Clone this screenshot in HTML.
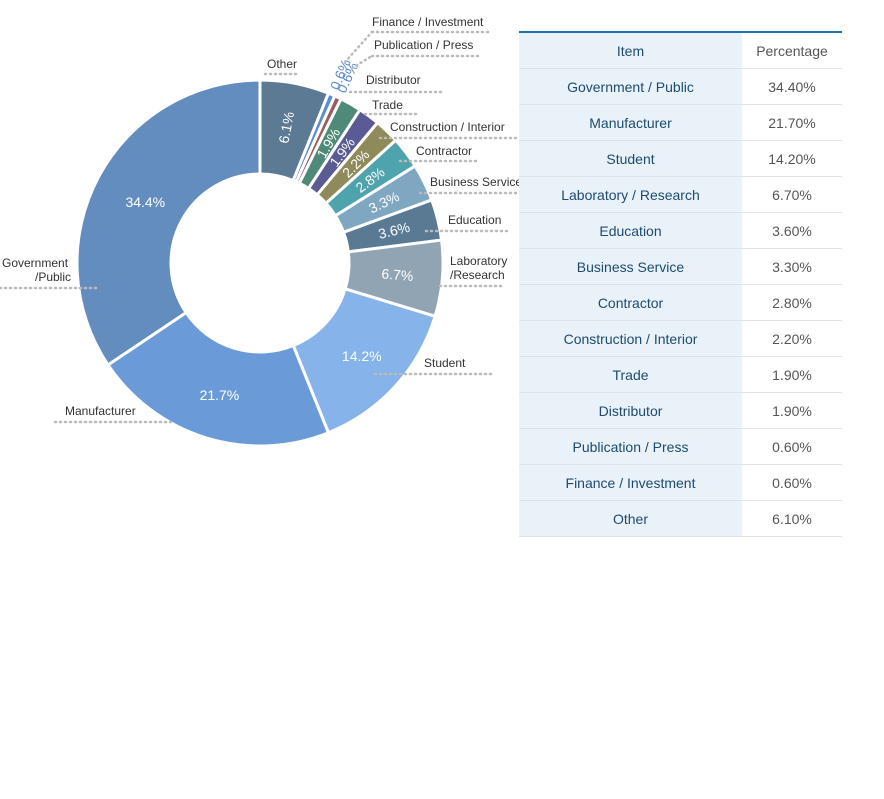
<!DOCTYPE html>
<html><head><meta charset="utf-8">
<style>
body{margin:0;width:884px;height:799px;background:#fff;font-family:"Liberation Sans",sans-serif;position:relative;overflow:hidden}
svg{position:absolute;left:0;top:0}
table{position:absolute;left:519px;top:31px;width:323px;border-collapse:collapse;border-top:2px solid #1f6fb5;font-size:14px}
td{height:35px;border-bottom:1px solid #dde3e8;text-align:center;padding:0}
td.i{background:#e9f1f9;color:#1f4a6e;width:223px}
td.p{color:#555}
</style></head><body>
<svg width="884" height="799">
<g id="slices"></g><g id="labels"></g><g id="callouts" font-size="12" fill="#333"></g>
</svg>
<table><tbody id="tb">
<tr><td class="i">Item</td><td class="p">Percentage</td></tr>
</tbody></table>
<script>
const categories=["Other","Finance / Investment","Publication  / Press","Distributor","Trade","Construction / Interior","Contractor","Business Service","Education","Laboratory / Research","Student","Manufacturer","Government / Public"];
const values=[6.1,0.6,0.6,1.9,1.9,2.2,2.8,3.3,3.6,6.7,14.2,21.7,34.4];
const colors=["#5d7a94","#5b8ccc","#9a5a5e","#4f8a78","#5a5a94","#8e8a5a","#4fa3ad","#7fa7c2","#5a7a94","#91a4b3","#85b3ea","#6a9bd8","#638cbf"];
const tableOrder=[12,11,10,9,8,7,6,5,4,3,2,1,0];
const cx=260,cy=263,ro=183,ri=89,NS="http://www.w3.org/2000/svg";
const total=values.reduce((a,b)=>a+b,0);
function pt(a,r){return [cx+r*Math.sin(a),cy-r*Math.cos(a)];}
const gs=document.getElementById('slices'),gl=document.getElementById('labels');
let cum=0;
values.forEach((v,i)=>{
 const a0=cum/total*2*Math.PI,a1=(cum+v)/total*2*Math.PI;cum+=v;
 const [x0,y0]=pt(a0,ro),[x1,y1]=pt(a1,ro),[x2,y2]=pt(a1,ri),[x3,y3]=pt(a0,ri);
 const lg=(a1-a0)>Math.PI?1:0;
 const p=document.createElementNS(NS,'path');
 p.setAttribute('d',`M${x0},${y0}A${ro},${ro} 0 ${lg} 1 ${x1},${y1}L${x2},${y2}A${ri},${ri} 0 ${lg} 0 ${x3},${y3}Z`);
 p.setAttribute('fill',colors[i]);p.setAttribute('stroke','#fff');p.setAttribute('stroke-width','3');
 
 
 gs.appendChild(p);
 const am=(a0+a1)/2,small=v<1,rl=small?205:(v<10?138:(v>30?130:138));
 const [tx,ty]=pt(am,rl);
 const t=document.createElementNS(NS,'text');
 t.setAttribute('x',tx);t.setAttribute('y',ty);t.setAttribute('text-anchor','middle');t.setAttribute('dominant-baseline','central');
 t.setAttribute('font-size','14');t.setAttribute('fill',small?'#5b8ccc':'#fff');
 if(v<10)t.setAttribute('transform',`rotate(${am*180/Math.PI-90} ${tx} ${ty})`);
 t.textContent=v.toFixed(1)+'%';
 
 
 gl.appendChild(t);
});
const gc=document.getElementById('callouts');
const callouts=[["Other",267,68,265,74,297,74],["Finance / Investment",372,26,372,32,490,32],["Publication  / Press",374,49,372,56,478,56],["Distributor",366,84,350,92,445,92],["Trade",372,109,365,114,416,114],["Construction / Interior",390,131,380,138,516,138],["Contractor",416,155,400,161,478,161],["Business Service",430,186,420,193,520,193],["Education",448,224,426,231,510,231],["Laboratory",450,265,440,286,505,286],["/Research",450,279,0,0,0,0],["Student",424,367,375,374,493,374],["Manufacturer",65,415,55,422,175,422],["Government",2,267,0,288,100,288],["/Public",35,281,0,0,0,0]];
callouts.forEach(c=>{
 const t=document.createElementNS(NS,'text');t.setAttribute('x',c[1]);t.setAttribute('y',c[2]);t.textContent=c[0];
 
 
 gc.appendChild(t);
 if(c[5]){const l=document.createElementNS(NS,'line');l.setAttribute('x1',c[3]);l.setAttribute('y1',c[4]);l.setAttribute('x2',c[5]);l.setAttribute('y2',c[6]);
 l.setAttribute('stroke','#bbb');l.setAttribute('stroke-width','2.5');l.setAttribute('stroke-dasharray','1 4');l.setAttribute('stroke-linecap','round');
 
 
 gc.appendChild(l);}
});
[[345,62,372,32],[352,68,372,56]].forEach(d=>{const l=document.createElementNS(NS,'line');l.setAttribute('x1',d[0]);l.setAttribute('y1',d[1]);l.setAttribute('x2',d[2]);l.setAttribute('y2',d[3]);
 l.setAttribute('stroke','#bbb');l.setAttribute('stroke-width','2.5');l.setAttribute('stroke-dasharray','1 4');l.setAttribute('stroke-linecap','round');
 
 
 gc.appendChild(l);});
const tb=document.getElementById('tb');
tableOrder.forEach(i=>{
 const tr=document.createElement('tr');
 
 
 tr.innerHTML=`<td class="i">${categories[i]}</td><td class="p">${values[i].toFixed(2)}%</td>`;
 tb.appendChild(tr);
});
</script>
</body></html>
